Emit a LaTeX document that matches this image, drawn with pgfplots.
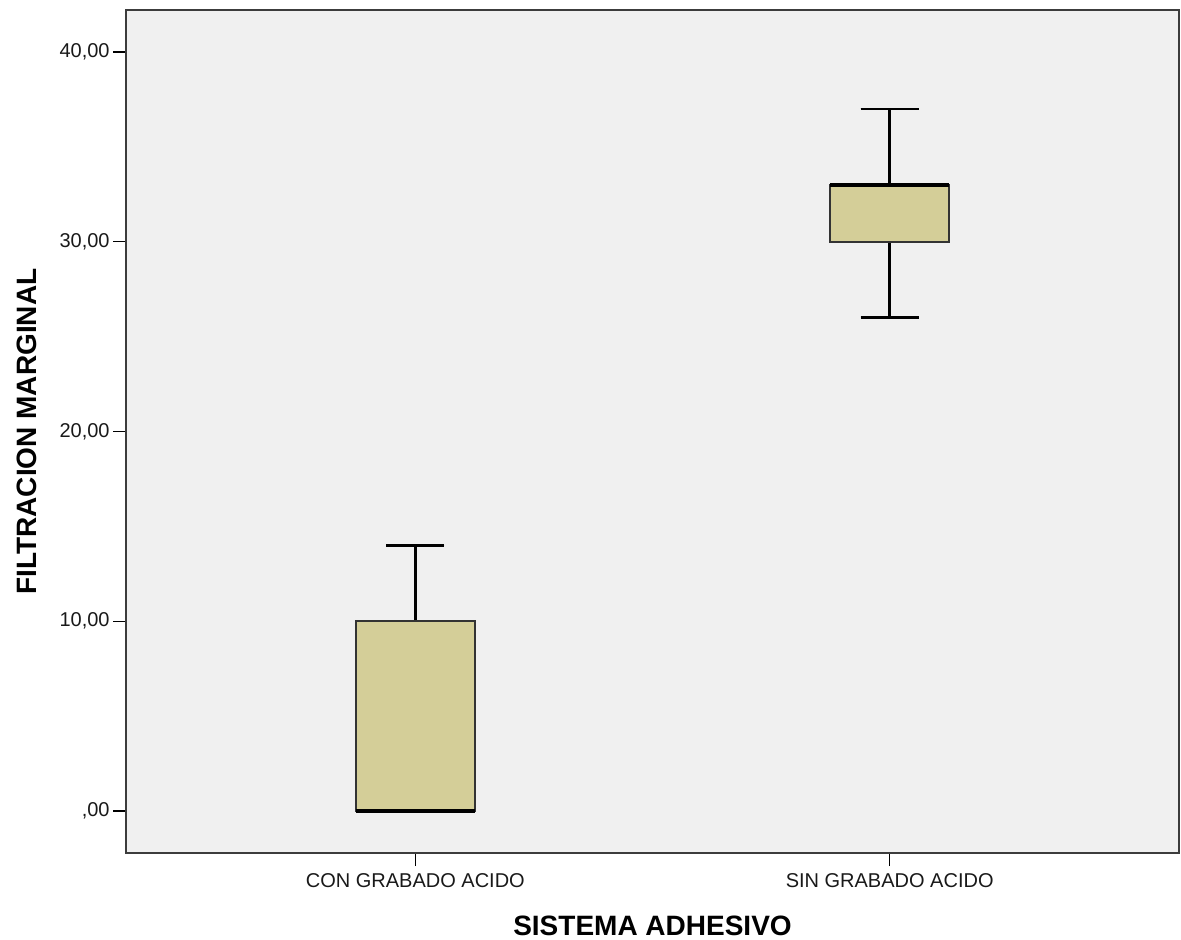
\documentclass[border=0pt]{standalone}
\usepackage{fontspec}
\setmainfont{Liberation Sans}
\usepackage{pgfplots}
\pgfplotsset{compat=1.18}
\usepgfplotslibrary{statistics}
\definecolor{bg}{RGB}{240,240,240}
\definecolor{boxfill}{RGB}{212,206,152}
\definecolor{frame}{RGB}{60,60,60}
\begin{document}
\begin{tikzpicture}
\useasboundingbox (0,0) rectangle (590.5pt,469.5pt);
\begin{axis}[
  at={(63pt,43pt)}, anchor=south west,
  scale only axis, width=526.5pt, height=421.5pt,
  xmin=0.39, xmax=2.61, ymin=-2.213, ymax=42.213,
  axis background/.style={fill=bg},
  axis line style={frame, line width=0.9pt},
  xtick={1,2}, xticklabels={CON GRABADO ACIDO, SIN GRABADO ACIDO},
  ytick={0,10,20,30,40}, yticklabels={{,00},{10,00},{20,00},{30,00},{40,00}},
  tick align=outside, xtick pos=bottom, ytick pos=left,
  major tick length=6.5pt,
  tick style={black, line width=0.7pt},
  ticklabel style={font=\fontsize{10}{12}\selectfont, text=black!90},
  yticklabel style={inner xsep=1.5pt},
  xlabel={SISTEMA ADHESIVO},
  ylabel={FILTRACION MARGINAL},
  label style={font=\fontsize{14}{16}\selectfont\bfseries},
  xlabel style={at={(axis description cs:0.5,-0.0866)}, anchor=center},
  ylabel style={at={(axis description cs:-0.094,0.5)}, anchor=center},
  boxplot/draw direction=y,
  boxplot/every median/.style={line width=2.2pt, black},
  boxplot/every whisker/.style={line width=1.3pt, black},
  boxplot/every box/.style={line width=1pt, draw=black!80, fill=boxfill},
]
\addplot[boxplot prepared={draw position=1, lower whisker=0, lower quartile=0,
  median=0, upper quartile=10, upper whisker=14, box extend=0.25, whisker extend=0.122},
  draw=black!85, fill=boxfill, line width=1pt] coordinates {};
\addplot[boxplot prepared={draw position=2, lower whisker=26, lower quartile=30,
  median=33, upper quartile=33, upper whisker=37, box extend=0.25, whisker extend=0.122},
  draw=black!85, fill=boxfill, line width=1pt] coordinates {};
\end{axis}
\end{tikzpicture}
\end{document}
